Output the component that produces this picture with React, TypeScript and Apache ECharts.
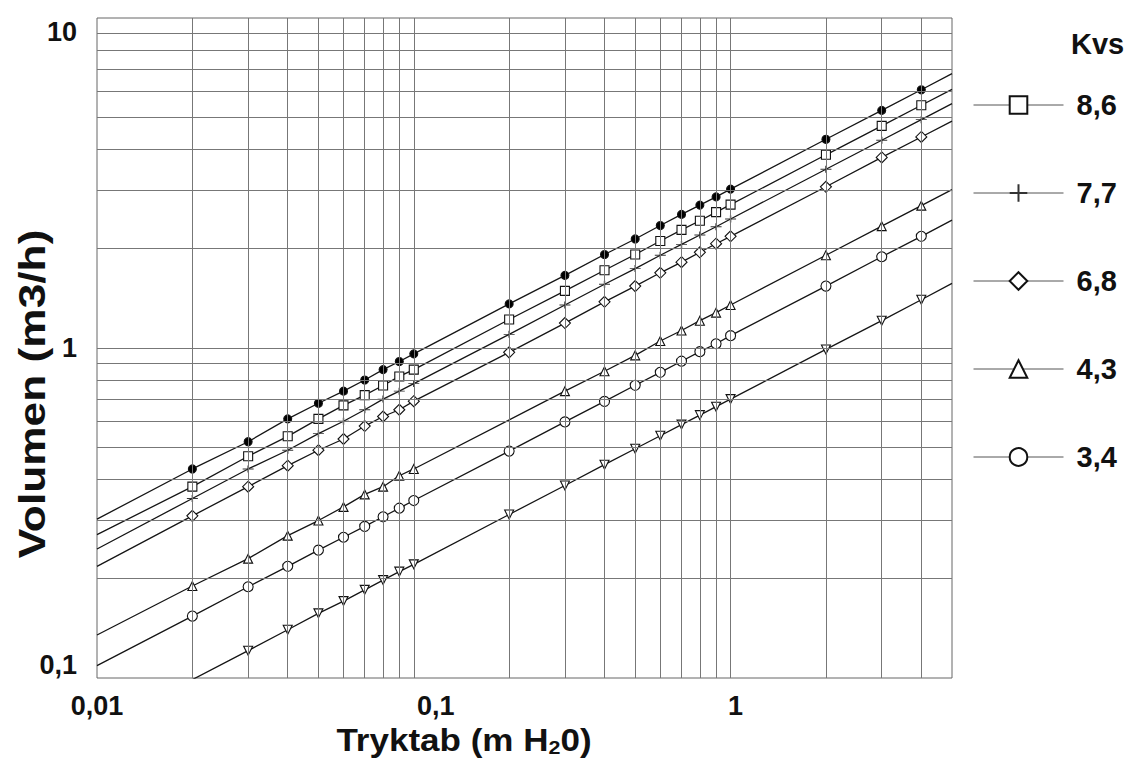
import React, { useEffect, useRef } from "react";
import * as echarts from "echarts";

// Pressure drop (m H2O) at which markers are drawn
const pressure = [0.02, 0.03, 0.04, 0.05, 0.06, 0.07, 0.08, 0.09, 0.1, 0.2, 0.3, 0.4, 0.5, 0.6, 0.7, 0.8, 0.9, 1, 2, 3, 4];
// Plot edges where the lines continue to
const edgePressure = [0.01, 5];

// Flow (m3/h), one value per pressure
const topQ = [0.43, 0.52, 0.61, 0.68, 0.74, 0.8, 0.86, 0.91, 0.96, 1.36, 1.66, 1.92, 2.14, 2.35, 2.54, 2.71, 2.87, 3.03, 4.29, 5.25, 6.06];
const kv86Q = [0.38, 0.47, 0.54, 0.61, 0.67, 0.72, 0.77, 0.82, 0.86, 1.22, 1.49, 1.72, 1.92, 2.11, 2.28, 2.43, 2.58, 2.72, 3.85, 4.71, 5.44];
const kv77Q = [0.35, 0.43, 0.49, 0.55, 0.6, 0.65, 0.7, 0.74, 0.78, 1.1, 1.35, 1.56, 1.74, 1.91, 2.06, 2.2, 2.33, 2.46, 3.48, 4.26, 4.92];
const kv68Q = [0.31, 0.38, 0.44, 0.49, 0.53, 0.58, 0.62, 0.65, 0.69, 0.97, 1.19, 1.38, 1.54, 1.69, 1.82, 1.95, 2.07, 2.18, 3.08, 3.78, 4.36];
const kv43Q = [0.19, 0.23, 0.27, 0.3, 0.33, 0.36, 0.38, 0.41, 0.43, null, 0.74, 0.85, 0.95, 1.05, 1.13, 1.21, 1.28, 1.35, 1.91, 2.34, 2.7];
const kv34Q = [0.154, 0.189, 0.218, 0.244, 0.267, 0.288, 0.308, 0.327, 0.345, 0.487, 0.597, 0.689, 0.771, 0.844, 0.912, 0.975, 1.03, 1.09, 1.54, 1.89, 2.18];
const lowQ = [null, 0.121, 0.14, 0.157, 0.171, 0.185, 0.198, 0.21, 0.221, 0.313, 0.383, 0.443, 0.495, 0.542, 0.586, 0.626, 0.664, 0.7, 0.99, 1.21, 1.4];

// Line values at the left (0.01) and right (5) plot edges
const topEdge = [0.303, 6.78];
const kv86Edge = [0.272, 6.08];
const kv77Edge = [0.246, 5.5];
const kv68Edge = [0.218, 4.87];
const kv43Edge = [0.135, 3.02];
const kv34Edge = [0.109, 2.44];
const lowEdge = [0.07, 1.57];

const legendNames = ["8,6", "7,7", "6,8", "4,3", "3,4"];

// Grid lines
const gridX = [0.02, 0.03, 0.04, 0.05, 0.06, 0.07, 0.08, 0.09, 0.1, 0.2, 0.3, 0.4, 0.5, 0.6, 0.7, 0.8, 0.9, 1, 2, 3, 4];
const gridY = [0.2, 0.3, 0.4, 0.5, 0.6, 0.7, 0.8, 0.9, 1, 2, 3, 4, 5, 6, 7, 8, 9];

const FONT = '"Liberation Sans", Arial, Helvetica, sans-serif';
const PLUS = "path://M0,6L12,6M6,0L6,12";

function buildData(q: (number | null)[], edge: number[]) {
  const out: any[] = [{ value: [edgePressure[0], edge[0]], symbol: "none" }];
  pressure.forEach((p, i) => {
    const v = q[i];
    if (v != null) out.push({ value: [p, v] });
  });
  out.push({ value: [edgePressure[1], edge[1]], symbol: "none" });
  return out;
}

function isPow10(v: number) {
  const l = Math.log10(v);
  return Math.abs(l - Math.round(l)) < 1e-6;
}
function fmt(v: number) {
  return String(+v.toPrecision(3)).replace(".", ",");
}

export default function App() {
  const ref = useRef<HTMLDivElement>(null);
  useEffect(() => {
    if (!ref.current) return;
    const chart = echarts.init(ref.current, null, { renderer: "svg" });
    const lineStyle = { color: "#151515", width: 1.3 };
    const mk = (
      name: string,
      q: (number | null)[],
      edge: number[],
      symbol: string,
      size: any,
      fill: string,
      extra: any = {}
    ) => ({
      type: "line",
      name,
      data: buildData(q, edge),
      symbol,
      symbolSize: size,
      showSymbol: true,
      lineStyle,
      itemStyle: { color: fill, borderColor: "#111", borderWidth: 1.1 },
      emphasis: { disabled: true },
      z: 3,
      ...extra,
    });

    const labelFont = { fontFamily: FONT, fontSize: 27, fontWeight: "bold", color: "#111", lineHeight: 27 };

    const option: any = {
      animation: false,
      backgroundColor: "#fff",
      title: {
        text: "Kvs",
        left: 1066,
        top: 24,
        textStyle: { fontFamily: FONT, fontSize: 29, fontWeight: "bold", color: "#111" },
      },
      grid: {
        left: 97,
        top: 18,
        width: 855,
        height: 660,
        show: true,
        borderColor: "#666",
        borderWidth: 1,
        backgroundColor: "transparent",
      },
      legend: {
        data: legendNames,
        orient: "vertical",
        left: 968,
        top: 85,
        itemWidth: 90,
        itemHeight: 22,
        itemGap: 58,
        selectedMode: false,
        lineStyle: { color: "#555", width: 1 },
        textStyle: {
          fontFamily: FONT,
          fontSize: 29,
          fontWeight: "bold",
          color: "#111",
          lineHeight: 30,
          padding: [0, 0, 0, 8],
        },
      },
      xAxis: {
        type: "log",
        logBase: 10,
        min: 0.01,
        max: 5,
        axisLine: { show: false },
        axisTick: { show: false },
        splitLine: { show: false },
        axisLabel: {
          margin: 14,
          ...labelFont,
          formatter: (v: number) => {
            if (!isPow10(v)) return "";
            const s = fmt(v);
            if (Math.abs(v - 0.1) < 1e-9) return "{m|" + s + "}";
            if (Math.abs(v - 1) < 1e-9) return "{o|" + s + "}";
            return s;
          },
          rich: {
            m: { ...labelFont, padding: [0, 0, 0, 44] },
            o: { ...labelFont, padding: [0, 0, 0, 10] },
          },
        },
      },
      yAxis: {
        type: "log",
        logBase: 10,
        min: 0.1,
        max: 10,
        axisLine: { show: false },
        axisTick: { show: false },
        splitLine: { show: false },
        axisLabel: {
          margin: 20,
          ...labelFont,
          verticalAlignMaxLabel: "top",
          verticalAlignMinLabel: "bottom",
          formatter: (v: number) => (isPow10(v) ? fmt(v) : ""),
        },
      },
      graphic: [
        {
          type: "text",
          x: 464,
          y: 740,
          scaleX: 1.13,
          style: {
            text: "Tryktab (m H{s|2}0)",
            font: `bold 31px ${FONT}`,
            fill: "#111",
            align: "center",
            verticalAlign: "middle",
            lineHeight: 31,
            rich: {
              s: { fontFamily: FONT, fontSize: 19, fontWeight: "bold", fill: "#111", padding: [14, 0, 0, 0] },
            },
          },
        },
        {
          type: "text",
          x: 33,
          y: 394,
          rotation: Math.PI / 2,
          scaleX: 1.23,
          style: {
            text: "Volumen (m3/h)",
            font: `bold 36px ${FONT}`,
            fill: "#111",
            align: "center",
            verticalAlign: "middle",
          },
        },
      ],
      series: [
        {
          type: "line",
          name: "grid",
          data: [],
          silent: true,
          z: 1,
          markLine: {
            silent: true,
            symbol: ["none", "none"],
            label: { show: false },
            emphasis: { disabled: true },
            lineStyle: { color: "#777", width: 1, type: "solid" },
            data: [...gridX.map((v) => ({ xAxis: v })), ...gridY.map((v) => ({ yAxis: v }))],
          },
        },
        mk("top", topQ, topEdge, "circle", 8, "#000"),
        mk("8,6", kv86Q, kv86Edge, "rect", 9, "#fff"),
        mk("7,7", kv77Q, kv77Edge, PLUS, [11, 7], "#fff", {
          itemStyle: { color: "#fff", borderColor: "#333", borderWidth: 1.1 },
        }),
        mk("6,8", kv68Q, kv68Edge, "diamond", 11, "#fff"),
        mk("4,3", kv43Q, kv43Edge, "triangle", 9, "#fff"),
        mk("3,4", kv34Q, kv34Edge, "circle", 10, "#fff"),
        mk("low", lowQ, lowEdge, "triangle", 9, "#fff", { symbolRotate: 180 }),
      ],
    };
    chart.setOption(option);
    return () => chart.dispose();
  }, []);
  return (
    <div
      ref={ref}
      style={{ position: "fixed", left: 0, top: 0, width: 1132, height: 762, background: "#fff" }}
    />
  );
}
